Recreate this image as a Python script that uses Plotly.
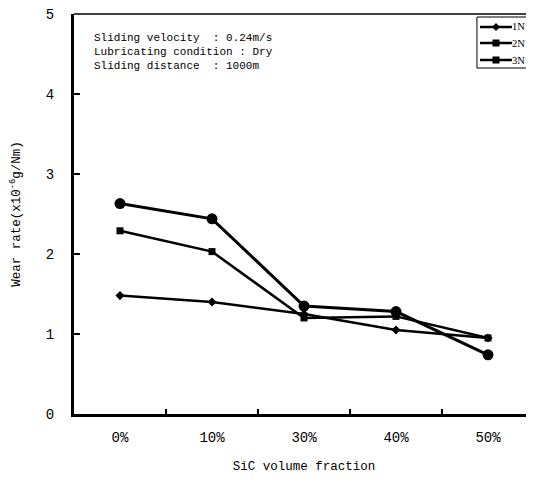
import plotly.graph_objects as go

categories = ["0%", "10%", "30%", "40%", "50%"]
wear_1N = [1.48, 1.40, 1.25, 1.05, 0.95]
wear_2N = [2.29, 2.03, 1.20, 1.22, 0.95]
wear_3N = [2.63, 2.44, 1.35, 1.28, 0.74]
y_ticks = [0, 1, 2, 3, 4, 5]
series_names = ["1N", "2N", "3N"]
info_lines = ["Sliding velocity  : 0.24m/s",
              "Lubricating condition : Dry",
              "Sliding distance  : 1000m"]

FONT = "Liberation Mono"

fig = go.Figure()
fig.add_trace(go.Scatter(x=categories, y=wear_1N, name=series_names[0], mode="lines+markers",
                         line=dict(color="black", width=2.5),
                         marker=dict(symbol="diamond", size=7, color="black")))
fig.add_trace(go.Scatter(x=categories, y=wear_2N, name=series_names[1], mode="lines+markers",
                         line=dict(color="black", width=2.5),
                         marker=dict(symbol="square", size=7, color="black")))
fig.add_trace(go.Scatter(x=categories, y=wear_3N, name=series_names[2], mode="lines+markers",
                         line=dict(color="black", width=3),
                         marker=dict(symbol="circle", size=11, color="black")))

# top frame line
fig.add_shape(type="line", xref="paper", yref="paper", x0=0, x1=1, y0=1, y1=1,
              line=dict(color="black", width=1.5))

# info text
for i, t in enumerate(info_lines):
    fig.add_annotation(xref="paper", yref="paper", x=0.04, y=0.94 - i * 0.035,
                       xanchor="left", yanchor="middle", showarrow=False, text=t,
                       font=dict(family=FONT, size=11, color="black"))

# compact legend box (drawn)
PX = 1 / 460.0
PY = 1 / 400.0
fig.add_shape(type="rect", xref="paper", yref="paper", x0=0.876, x1=1.01, y0=0.865, y1=0.9925,
              line=dict(color="black", width=1), fillcolor="white", layer="above")
leg_y = [0.9675, 0.9275, 0.885]
mx = 0.9174
for i, name in enumerate(series_names):
    yy = leg_y[i]
    fig.add_shape(type="line", xref="paper", yref="paper", x0=0.8826, x1=0.952,
                  y0=yy, y1=yy, line=dict(color="black", width=2.5), layer="above")
    if i == 0:
        d = 4
        path = (f"M {mx - d*PX},{yy} L {mx},{yy + d*PY} L {mx + d*PX},{yy} "
                f"L {mx},{yy - d*PY} Z")
        fig.add_shape(type="path", xref="paper", yref="paper", path=path,
                      fillcolor="black", line=dict(color="black", width=0), layer="above")
    else:
        d = 3.5
        fig.add_shape(type="rect", xref="paper", yref="paper",
                      x0=mx - d*PX, x1=mx + d*PX, y0=yy - d*PY, y1=yy + d*PY,
                      fillcolor="black", line=dict(color="black", width=0), layer="above")
    fig.add_annotation(xref="paper", yref="paper", x=0.951, y=yy, showarrow=False,
                       text=name, xanchor="left", yanchor="middle", xshift=-1,
                       font=dict(family="Liberation Serif", size=10.5, color="black"))

fig.update_layout(
    width=526, height=471,
    margin=dict(l=66, r=0, t=6, b=65),
    paper_bgcolor="white", plot_bgcolor="white",
    font=dict(family=FONT, size=12, color="black"),
    showlegend=False,
    xaxis=dict(type="category", categoryorder="array", categoryarray=categories,
               range=[-0.5, 4.5], showline=True, linecolor="black", linewidth=3,
               ticks="inside", ticklen=5, tickwidth=2, tickcolor="black",
               tickson="boundaries", showgrid=False, zeroline=False, automargin=False,
               ticklabelstandoff=8, ticklabeloverflow="allow",
               title=dict(text="SiC volume fraction", standoff=17,
                          font=dict(family=FONT, size=12.5)),
               tickfont=dict(family=FONT, size=14)),
    yaxis=dict(range=[0, 5], tickvals=y_ticks, showline=True, linecolor="black",
               linewidth=3, ticks="inside", ticklen=6, tickwidth=2, tickcolor="black",
               showgrid=False, zeroline=False, automargin=False,
               ticklabelstandoff=14, ticklabeloverflow="allow",
               title=dict(text="Wear rate(x10<sup>-6</sup>g/Nm)", standoff=24,
                          font=dict(family=FONT, size=12.5)),
               tickfont=dict(family=FONT, size=14)),
)

fig.write_html("out.html")
